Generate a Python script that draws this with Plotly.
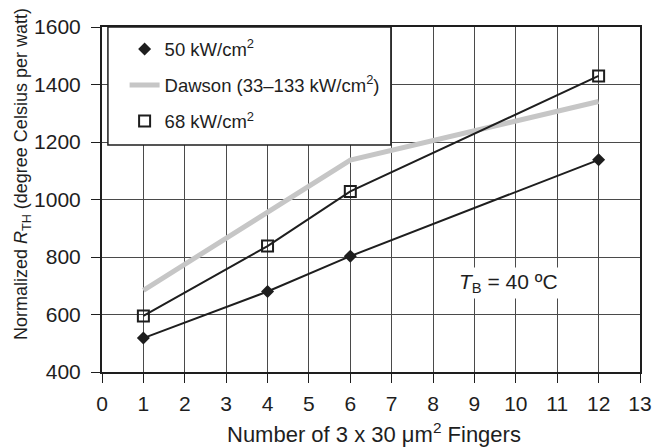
import plotly.graph_objects as go

# Thermal resistance vs. number of fingers
fingers = [1, 4, 6, 12]
rth_50 = [518, 680, 803, 1138]      # 50 kW/cm^2
rth_68 = [595, 838, 1028, 1430]     # 68 kW/cm^2
dawson_x = [1, 6, 12]
dawson_y = [684, 1137, 1341]        # Dawson (33-133 kW/cm^2)

x_ticks = list(range(0, 14))
y_ticks = list(range(400, 1601, 200))

FONT = "Liberation Sans, Arial, sans-serif"
INK = "#1e1e1e"

fig = go.Figure()

# Measured series: connecting line (no legend entry) + markers (legend entry)
fig.add_trace(go.Scatter(
    x=fingers, y=rth_50, mode="lines", showlegend=False, legendgroup="a",
    line=dict(color=INK, width=2), hoverinfo="skip",
))
fig.add_trace(go.Scatter(
    x=fingers, y=rth_50, mode="markers",
    name="50 kW/cm<sup>2</sup>", legendgroup="a",
    marker=dict(symbol="diamond", size=10, color=INK),
))
fig.add_trace(go.Scatter(
    x=dawson_x, y=dawson_y, mode="lines",
    name="Dawson (33\u2013133 kW/cm<sup>2</sup>)", legendgroup="b",
    line=dict(color="#c6c6c6", width=5),
))
fig.add_trace(go.Scatter(
    x=fingers, y=rth_68, mode="lines", showlegend=False, legendgroup="c",
    line=dict(color=INK, width=2), hoverinfo="skip",
))
fig.add_trace(go.Scatter(
    x=fingers, y=rth_68, mode="markers",
    name="68 kW/cm<sup>2</sup>", legendgroup="c",
    marker=dict(symbol="square-open", size=11, color=INK, line=dict(width=2)),
))

# Legend frame
fig.add_shape(type="rect", xref="paper", yref="paper",
              x0=0.011, x1=0.537, y0=0.658, y1=1.0,
              line=dict(color=INK, width=1.5), fillcolor="white", layer="above")

# Bath temperature note
fig.add_annotation(x=9.83, y=711, xref="x", yref="y",
                   text="<i>T</i><sub>B</sub> = 40 \u00baC", showarrow=False,
                   font=dict(family=FONT, size=21, color=INK),
                   bgcolor="white", borderpad=2)

# Axis titles
fig.add_annotation(x=-0.148, y=0.575, xref="paper", yref="paper",
                   text="Normalized <i>R</i><sub>TH</sub> (degree Celsius per watt)",
                   textangle=-90, showarrow=False, xanchor="center", yanchor="middle",
                   font=dict(family=FONT, size=18, color=INK))
fig.add_annotation(x=0.505, y=-0.176, xref="paper", yref="paper",
                   text="Number of 3 x 30 \u03bcm<sup>2</sup> Fingers",
                   showarrow=False, xanchor="center", yanchor="middle",
                   font=dict(family=FONT, size=22, color=INK))

axis_common = dict(
    showgrid=True, gridcolor="#4a4a4a", gridwidth=1,
    showline=True, linecolor=INK, linewidth=2, mirror=True,
    ticks="outside", ticklen=9, tickwidth=1, tickcolor=INK,
    tickfont=dict(family=FONT, size=21, color=INK),
    zeroline=False,
)

fig.update_xaxes(range=[0, 13], tickvals=x_ticks, ticklabelstandoff=3, **axis_common)
fig.update_yaxes(range=[400, 1600], tickvals=y_ticks, ticklabelstandoff=6, **axis_common)

fig.update_layout(
    width=664, height=447,
    margin=dict(l=102, r=13, t=27, b=75),
    paper_bgcolor="white", plot_bgcolor="white",
    font=dict(family=FONT, color=INK),
    showlegend=True,
    legend=dict(x=0.042, y=0.99, xanchor="left", yanchor="top",
                bgcolor="rgba(0,0,0,0)", borderwidth=0,
                tracegroupgap=9,
                font=dict(family=FONT, size=18.5, color=INK)),
)

fig.write_html("out.html")
